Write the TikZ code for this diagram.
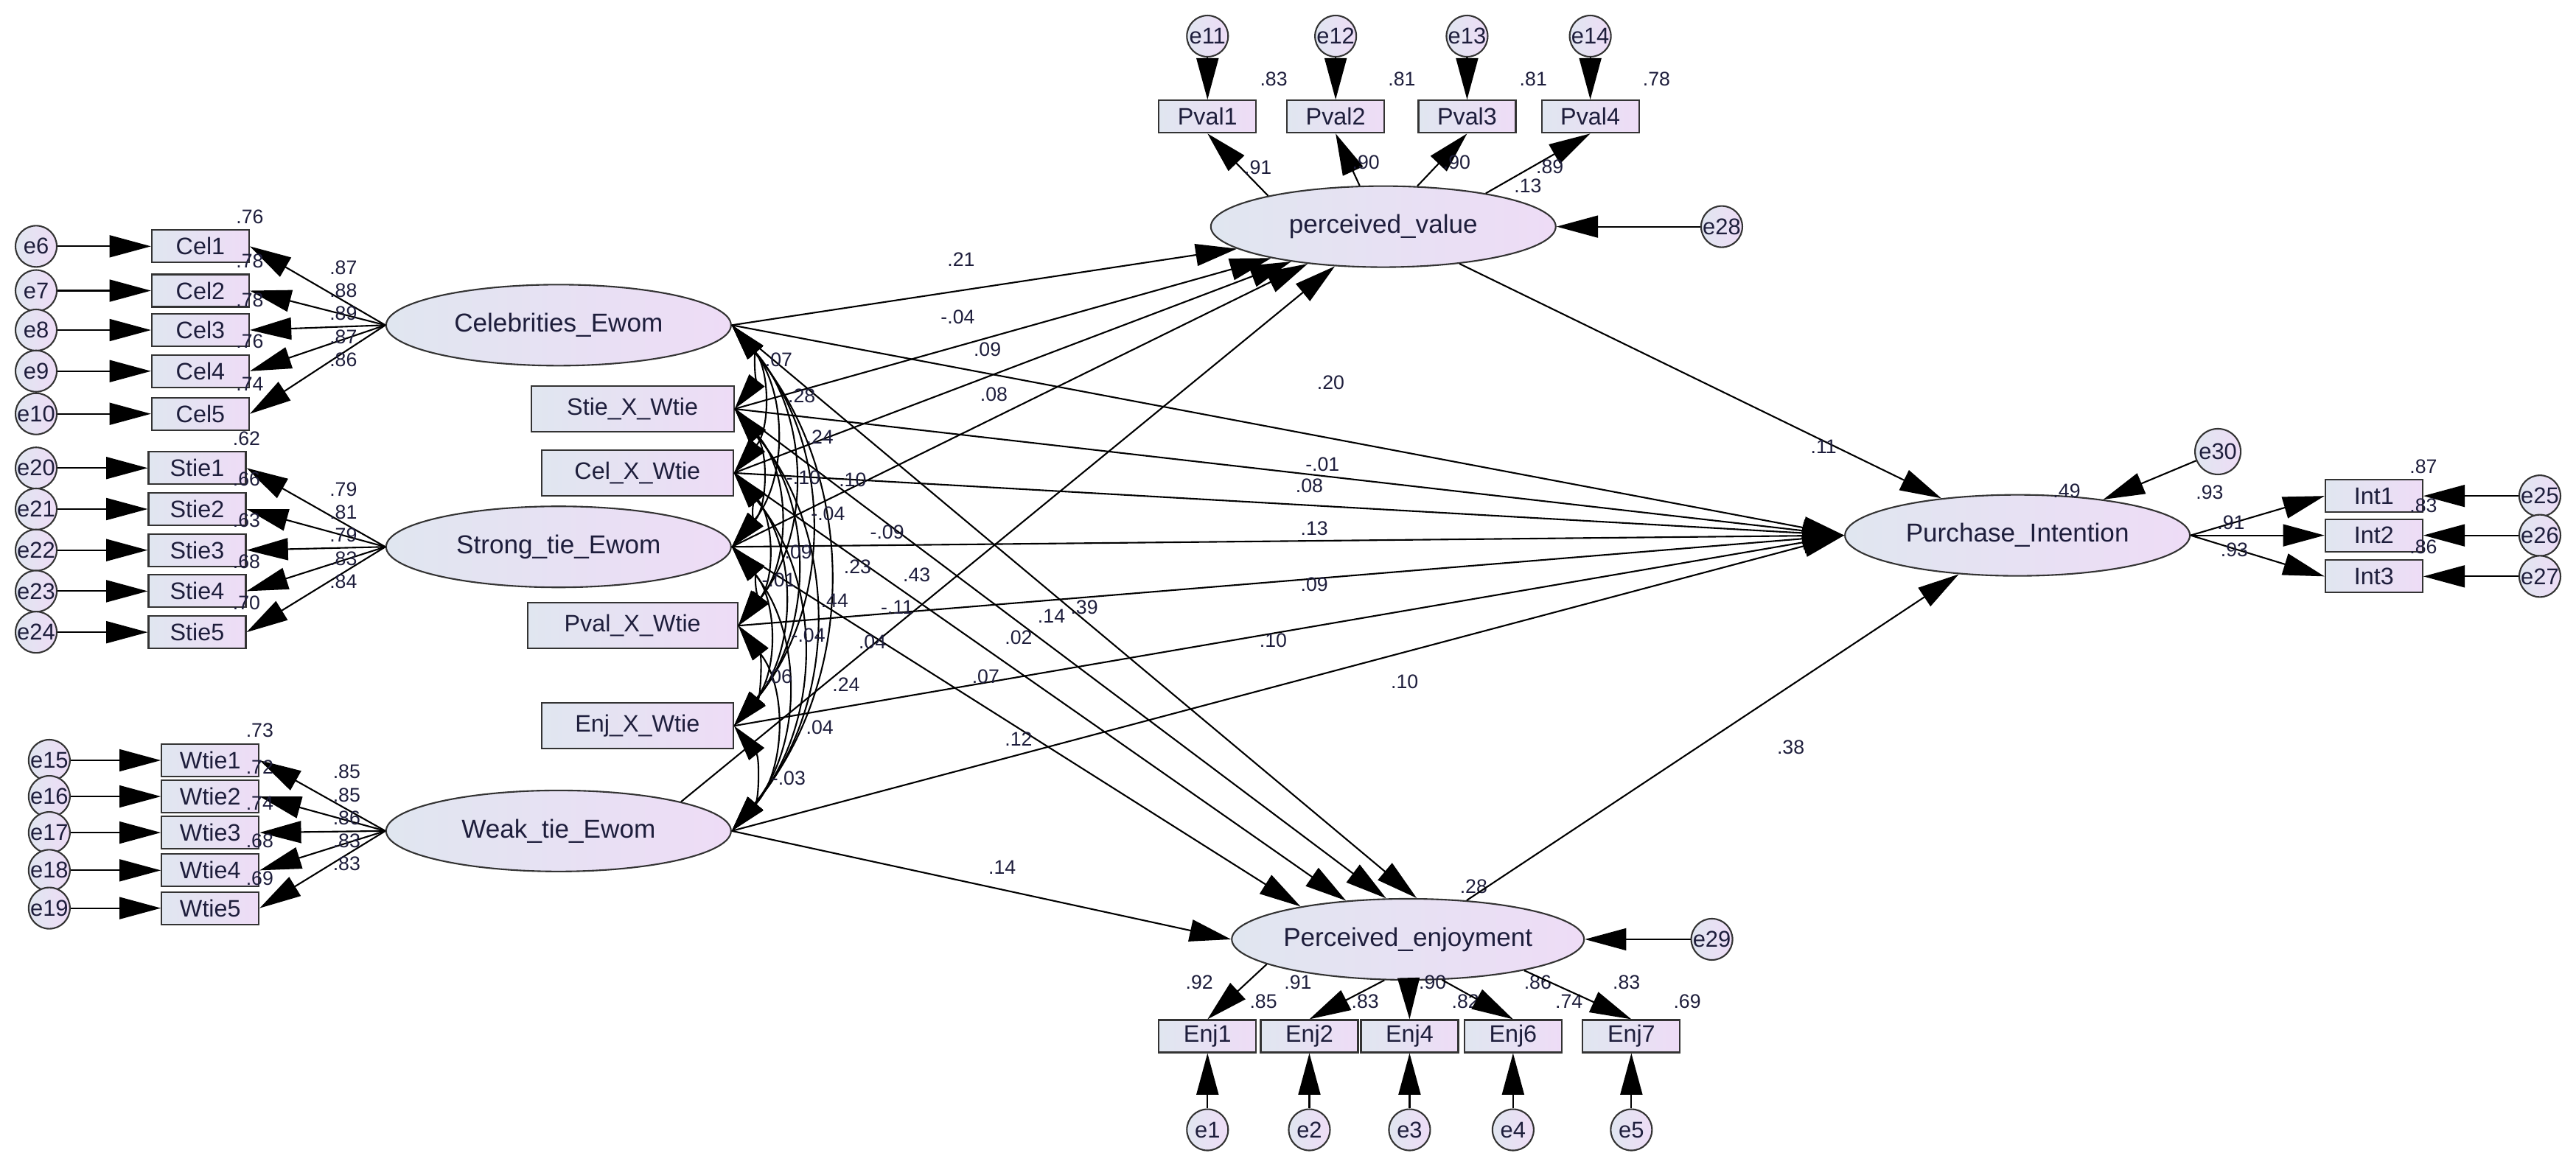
\documentclass[tikz,border=0pt]{standalone}
\usepackage{fontspec}
\setmainfont{Liberation Sans}
\usetikzlibrary{shapes.geometric,arrows.meta}
\definecolor{lc}{RGB}{224,230,240}
\definecolor{rc}{RGB}{238,220,246}
\definecolor{tc}{RGB}{30,30,60}
\begin{document}
\begin{tikzpicture}[x=0.02229cm,y=-0.02229cm,
  lat/.style={ellipse,draw=black!80,line width=0.6pt,left color=lc,right color=rc,inner sep=0pt,minimum width=4.68cm,minimum height=1.1cm,font=\fontsize{10}{12}\selectfont,text=tc},
  obs/.style={rectangle,draw=black!80,line width=0.6pt,left color=lc,right color=rc,inner sep=0pt,minimum width=1.32cm,minimum height=0.44cm,font=\fontsize{9.2}{11}\selectfont,text=tc},
  xobs/.style={obs,minimum width=2.75cm,minimum height=0.62cm},
  err/.style={circle,draw=black!80,line width=0.6pt,left color=lc,right color=rc,inner sep=0pt,minimum size=0.56cm},
  et/.style={font=\fontsize{8.8}{10}\selectfont,text=tc,inner sep=0pt},
  lab/.style={font=\fontsize{7.6}{9}\selectfont,text=tc,inner sep=1pt},
  path/.style={-{Triangle[length=16pt,width=8.5pt]},line width=0.6pt},
  cov/.style={{Triangle[length=14pt,width=7.5pt]}-{Triangle[length=14pt,width=7.5pt]},line width=0.6pt,bend left=40}]
\useasboundingbox (0,0) rectangle (1568,702);

% latent variables
\node[lat] (C) at (340,198) {Celebrities\_Ewom};
\node[lat] (St) at (340,333) {Strong\_tie\_Ewom};
\node[lat] (W) at (340,506) {Weak\_tie\_Ewom};
\node[lat] (pv) at (842,138) {perceived\_value};
\node[lat] (PI) at (1228,326) {Purchase\_Intention};
\node[lat] (PE) at (857,572) {Perceived\_enjoyment};

% interaction terms
\node[xobs] (S) at (385,249) {Stie\_X\_Wtie};
\node[xobs,minimum width=2.6cm] (CX) at (388,288) {Cel\_X\_Wtie};
\node[xobs,minimum width=2.85cm] (P) at (385,381) {Pval\_X\_Wtie};
\node[xobs,minimum width=2.6cm] (E) at (388,442) {Enj\_X\_Wtie};

% Celebrities indicators
\foreach \n/\y/\e/\r/\l/\ly in {1/150/6/.76/.87/163,2/177/7/.78/.88/177,3/201/8/.78/.89/191,4/226/9/.76/.87/205,5/252/10/.74/.86/219}{
  \node[obs] (cel\n) at (122,\y) {Cel\n};
  \node[err] (e\e) at (22,\y) {}; \node[et] at (e\e) {e\e};
  \draw[path] (e\e) -- (cel\n);
  \draw[path] (C.west) -- (cel\n.east);
  \node[lab] at (209,\ly) {\l};
  \node[lab,anchor=south] at ([yshift=1pt]cel\n.north east) {\r};
}
% Strong tie indicators
\foreach \n/\y/\e/\r/\l/\ly in {1/285/20/.62/.79/298,2/310/21/.66/.81/312,3/335/22/.63/.79/326,4/360/23/.68/.83/340,5/385/24/.70/.84/354}{
  \node[obs] (st\n) at (120,\y) {Stie\n};
  \node[err] (e\e) at (22,\y) {}; \node[et] at (e\e) {e\e};
  \draw[path] (e\e) -- (st\n);
  \draw[path] (St.west) -- (st\n.east);
  \node[lab] at (209,\ly) {\l};
  \node[lab,anchor=south] at ([yshift=1pt]st\n.north east) {\r};
}
% Weak tie indicators
\foreach \n/\y/\e/\r/\l/\ly in {1/463/15/.73/.85/470,2/485/16/.72/.85/484,3/507/17/.74/.86/498,4/530/18/.68/.83/512,5/553/19/.69/.83/526}{
  \node[obs] (wt\n) at (128,\y) {Wtie\n};
  \node[err] (e\e) at (30,\y) {}; \node[et] at (e\e) {e\e};
  \draw[path] (e\e) -- (wt\n);
  \draw[path] (W.west) -- (wt\n.east);
  \node[lab] at (211,\ly) {\l};
  \node[lab,anchor=south] at ([yshift=1pt]wt\n.north east) {\r};
}
% perceived value indicators
\foreach \n/\x/\e/\r/\l/\a in {1/735/11/.83/.91/165,2/813/12/.81/.90/120,3/893/13/.81/.90/50,4/968/14/.78/.89/18}{
  \node[obs] (pv\n) at (\x,71) {Pval\n};
  \node[err] (e\e) at (\x,22) {}; \node[et] at (e\e) {e\e};
  \draw[path] (e\e) -- (pv\n);
  \draw[path] (pv.\a) -- node[lab,pos=0.45,right]{\l} (pv\n.south);
  \node[lab,anchor=south west] at ([yshift=4pt]pv\n.north east) {\r};
}
\node[lab] at (930,113) {.13};
\node[err] (e28) at (1048,138) {}; \node[et] at (e28) {e28};
\draw[path] (e28) -- (pv);

% perceived enjoyment indicators
\foreach \n/\x/\e/\r/\l/\k/\lx/\a in {1/735/1/.85/.92/1/730/190,2/797/2/.83/.91/2/790/240,3/858/3/.82/.90/4/872/271,4/921/4/.74/.86/6/936/310,5/993/5/.69/.83/7/990/345}{
  \node[obs] (en\n) at (\x,631) {Enj\k};
  \node[err] (e\e) at (\x,688) {}; \node[et] at (e\e) {e\e};
  \draw[path] (e\e) -- (en\n);
  \draw[path] (PE.\a) -- (en\n.north);
  \node[lab] at (\lx,598) {\l};
  \node[lab,anchor=south west] at ([yshift=3pt,xshift=-4pt]en\n.north east) {\r};
}
\node[lab] at (897,540) {.28};
\node[err] (e29) at (1042,572) {}; \node[et] at (e29) {e29};
\draw[path] (e29) -- (PE);

% purchase intention indicators
\foreach \n/\y/\e/\r/\l/\lx/\ly in {1/302/25/.87/.93/1345/300,2/326/26/.83/.91/1358/318,3/351/27/.86/.93/1360/335}{
  \node[obs] (in\n) at (1445,\y) {Int\n};
  \node[err] (e\e) at (1546,\y) {}; \node[et] at (e\e) {e\e};
  \draw[path] (e\e) -- (in\n);
  \draw[path] (PI.east) -- (in\n.west);
  \node[lab] at (\lx,\ly) {\l};
  \node[lab,anchor=south] at ([yshift=1pt]in\n.north east) {\r};
}
\node[lab] at (1258,299) {.49};
\node[err,minimum size=0.62cm] (e30) at (1350,275) {}; \node[et] at (e30) {e30};
\draw[path] (e30) -- (PI);

% structural paths to perceived value
\draw[path] (C.east) -- (pv);
\draw[path] (S.east) -- (pv);
\draw[path] (CX.east) -- (pv);
\draw[path] (St.east) -- (pv);
\draw[path] (W.north east) -- (pv);
\node[lab] at (585,158) {.21};
\node[lab] at (583,193) {-.04};
\node[lab] at (601,213) {.09};
\node[lab] at (605,240) {.08};
\node[lab] at (640,375) {.14};

% structural paths to purchase intention
\draw[path] (C.east) -- (PI.west);
\draw[path] (S.east) -- (PI.west);
\draw[path] (CX.east) -- (PI.west);
\draw[path] (St.east) -- (PI.west);
\draw[path] (P.east) -- (PI.west);
\draw[path] (E.east) -- (PI.west);
\draw[path] (W.east) -- (PI.west);
\draw[path] (pv) -- (PI);
\draw[path] (PE) -- (PI);
\node[lab] at (810,233) {.20};
\node[lab] at (805,283) {-.01};
\node[lab] at (797,296) {.08};
\node[lab] at (800,322) {.13};
\node[lab] at (800,356) {.09};
\node[lab] at (775,390) {.10};
\node[lab] at (855,415) {.10};
\node[lab] at (1110,272) {.11};
\node[lab] at (1090,455) {.38};

% structural paths to perceived enjoyment
\draw[path] (C.east) -- (PE.78);
\draw[path] (S.east) -- (PE.118);
\draw[path] (CX.east) -- (PE.148);
\draw[path] (St.east) -- (PE.163);
\draw[path] (W.east) -- (PE.west);
\node[lab] at (660,370) {.39};
\node[lab] at (620,388) {.02};
\node[lab] at (600,412) {.07};
\node[lab] at (620,450) {.12};
\node[lab] at (610,528) {.14};

% covariances
\foreach \a/\b in {C/S,C/CX,C/St,C/P,C/E,C/W,S/CX,S/St,S/P,S/E,S/W,CX/St,CX/P,CX/E,CX/W,St/P,St/E,St/W,P/E,P/W,E/W}{
  \draw[cov] (\a.east) to (\b.east);
}
\foreach \x/\y/\t in {474/219/.07,488/241/.28,499/266/.24,489/291/-.10,519/292/.10,504/313/-.04,540/324/-.09,486/336/.09,474/353/-.01,522/345/.23,558/350/.43,508/366/.44,546/370/-.11,492/387/-.04,531/391/.04,474/412/.06,515/417/.24,499/443/.04,480/474/-.03}{
  \node[lab] at (\x,\y) {\t};
}
\end{tikzpicture}
\end{document}
